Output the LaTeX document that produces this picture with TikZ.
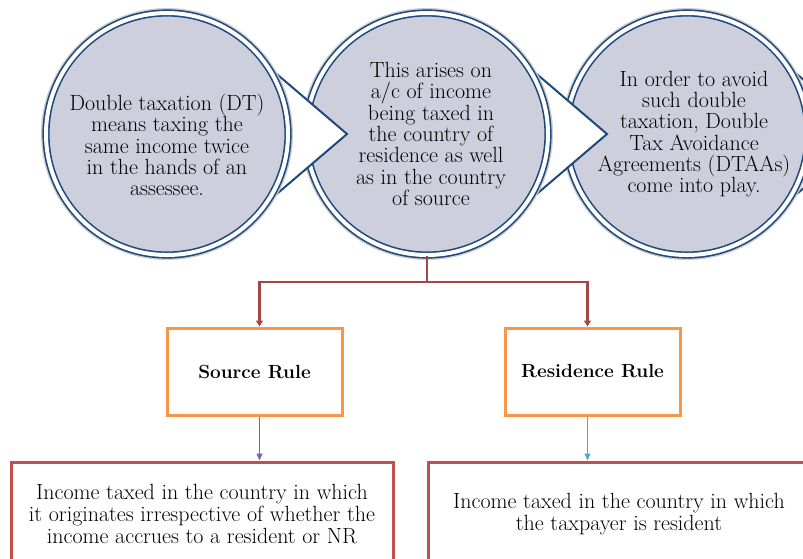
\documentclass[tikz,border=0pt]{standalone}
\usepackage{xcolor}
\usetikzlibrary{arrows.meta,positioning}

\definecolor{ringblue}{RGB}{31,73,125}
\definecolor{bubblegray}{RGB}{205,208,220}
\definecolor{ruleorange}{RGB}{247,150,70}
\definecolor{notered}{RGB}{192,80,77}
\definecolor{trunkred}{RGB}{165,70,66}
\definecolor{srcpurple}{RGB}{128,100,162}
\definecolor{rescyan}{RGB}{75,172,198}

\begin{document}
\begin{tikzpicture}[x=1pt, y=-1pt, node distance=260pt]
        \tikzset{bubble/.style={circle, draw=ringblue, line width=1.6pt, double=white, double distance=4pt, fill=bubblegray, minimum size=242pt, inner sep=0pt, preaction={draw=gray!40, line width=10pt}}}
        \tikzset{pointer/.style={draw=ringblue, line width=2pt, fill=white}}
        \tikzset{bubbletext/.style={align=center, inner sep=0pt, font=\fontsize{22}{21.3}\selectfont}}
        \tikzset{rulebox/.style={rectangle, draw=ruleorange, line width=3pt, minimum width=175pt, minimum height=87pt, font=\fontsize{19}{21}\selectfont\bfseries}}
        \tikzset{notebox/.style={rectangle, draw=notered, line width=3pt, minimum width=382pt, minimum height=104pt, align=center, font=\fontsize{22}{22}\selectfont}}
        \tikzset{trunk/.style={draw=trunkred, line width=2.5pt}}

        \useasboundingbox (0,0) rectangle (803,558);
        \clip (0,0) rectangle (803,558);

        % Centres of the bubbles
        \coordinate (p1) at (167,134);
        \coordinate [right of=p1] (p2);
        \coordinate [right of=p2] (p3);

        % Bubbles, drawn from right to left
        \draw [pointer] ([shift={(30:124)}]p3) -- ([shift={(180,0)}]p3) -- ([shift={(-30:124)}]p3);
        \node [bubble] (c3) at (p3) {};
        \node [bubbletext] (t3) at ([xshift=7pt]c3.center) {In order to avoid\\ such double\\ taxation, Double\\ Tax Avoidance\\ Agreements (DTAAs)\\ come into play.};

        \draw [pointer] ([shift={(30:124)}]p2) -- ([shift={(180,0)}]p2) -- ([shift={(-30:124)}]p2);
        \node [bubble] (c2) at (p2) {};
        \node [bubbletext] (t2) at ([xshift=4pt]c2.center) {This arises on\\ a/c of income\\ being taxed in\\ the country of\\ residence as well\\ as in the country\\ of source};

        \draw [pointer] ([shift={(30:124)}]p1) -- ([shift={(180,0)}]p1) -- ([shift={(-30:124)}]p1);
        \node [bubble] (c1) at (p1) {};
        \node [bubbletext] (t1) at ([yshift=-11pt]c1.center) {Double taxation (DT)\\ means taxing the\\ same income twice\\ in the hands of an\\ assessee.};

        % Rules
        \node [rulebox] (src) at (254.5,371.5) {Source Rule};
        \node [rulebox, right=160pt of src] (res) {Residence Rule};

        % Notes
        \node [notebox] (srcnote) at (202,514) {Income taxed in the country in which\\ it originates irrespective of whether the\\ income accrues to a resident or NR};
        \node [notebox, right=32pt of srcnote] (resnote) {Income taxed in the country in which\\ the taxpayer is resident};

        % Connectors
        \coordinate (srcin) at ([xshift=5pt]src.north);
        \coordinate (resin) at ([xshift=-5pt]res.north);
        \coordinate (srcout) at ([xshift=5pt]src.south);
        \coordinate (resout) at ([xshift=-5pt]res.south);
        \draw [trunk] (c2.south) -- ++(0,26) coordinate (fork);
        \draw [trunk, -{Triangle[length=6pt, width=7pt]}] (fork) -| (srcin);
        \draw [trunk, -{Triangle[length=6pt, width=7pt]}] (fork) -| (resin);
        \draw [srcpurple, line width=1pt, -{Triangle[length=7pt, width=6pt]}] (srcout) -- (srcout |- srcnote.north);
        \draw [rescyan, line width=1pt, -{Triangle[length=7pt, width=6pt]}] (resout) -- (resout |- resnote.north);
    \end{tikzpicture}
\end{document}
